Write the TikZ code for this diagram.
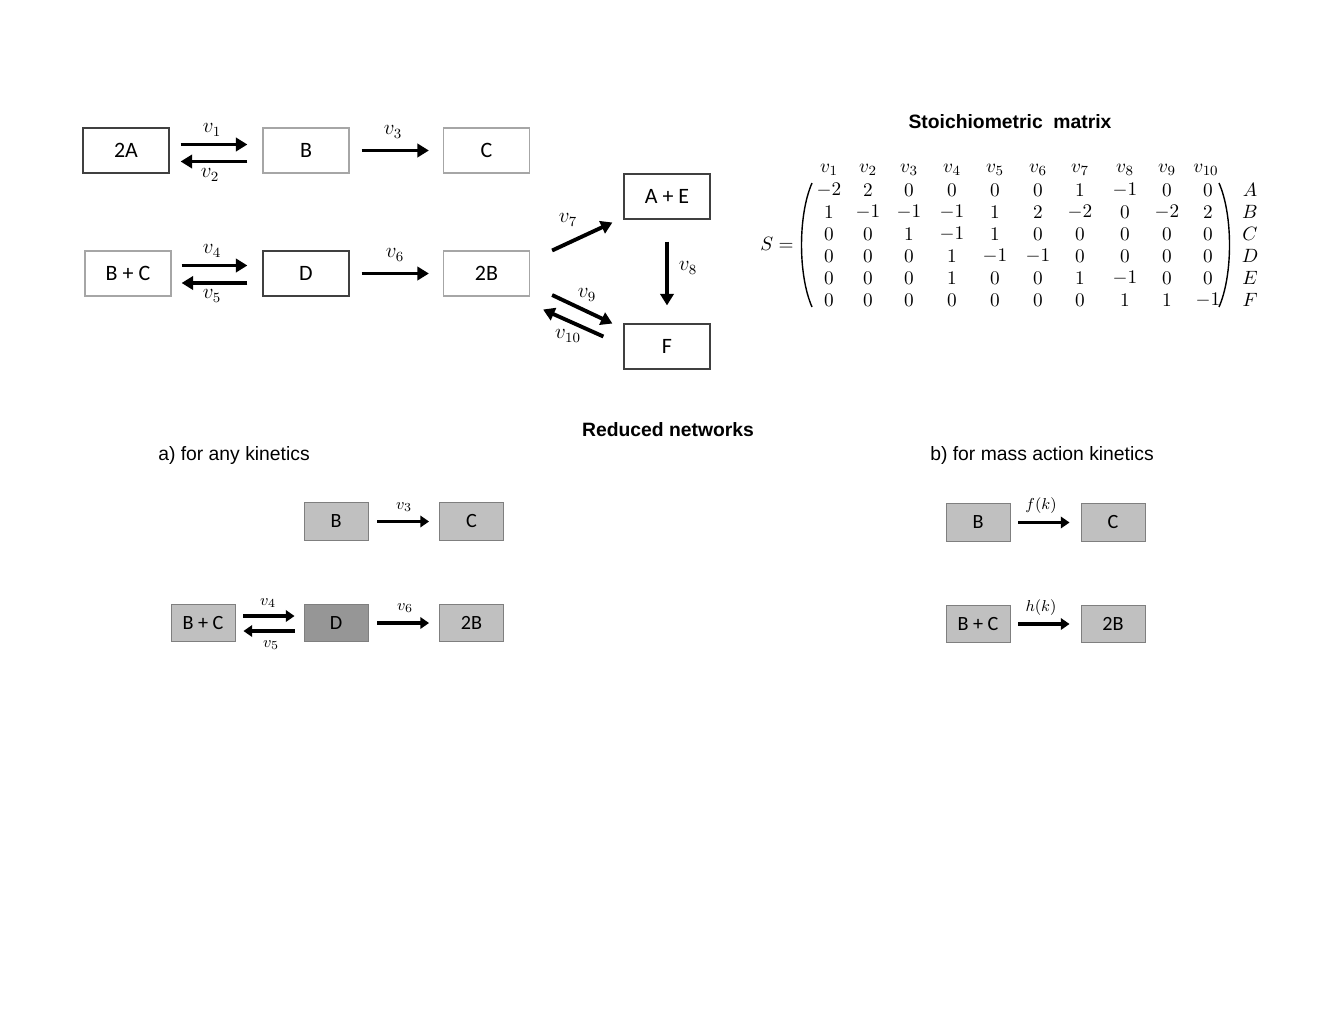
\documentclass[tikz,border=0pt]{standalone}
\usepackage{fontspec}
\setmainfont{Carlito}
\newfontfamily\arialfont{Liberation Sans}
\usetikzlibrary{arrows.meta,calc}

\definecolor{lineg}{RGB}{166,166,166}
\definecolor{lined}{RGB}{64,64,64}
\definecolor{redg}{RGB}{192,192,192}
\definecolor{redd}{RGB}{150,150,150}
\definecolor{redline}{RGB}{127,127,127}

\tikzset{
  species/.style={draw=lineg, line width=0.7pt, minimum width=1.72cm, minimum height=0.9cm,
    inner sep=0pt, font=\fontsize{12.5}{15}\selectfont},
  keyspecies/.style={species, draw=lined},
  reduced/.style={draw=redline, fill=redg, line width=0.5pt, minimum width=1.28cm,
    minimum height=0.75cm, inner sep=0pt, font=\fontsize{11.5}{14}\selectfont},
  rxn/.style={line width=2.2pt, -{Triangle[length=6.5pt,width=7.5pt]}},
  rxnsmall/.style={line width=1.8pt, -{Triangle[length=5pt,width=6.5pt]}},
  rate/.style={font=\fontsize{12}{14}\selectfont},
  ratesmall/.style={font=\fontsize{9.5}{11}\selectfont},
  heading/.style={font=\arialfont\bfseries\fontsize{11}{13}\selectfont},
  subheading/.style={font=\arialfont\fontsize{11}{13}\selectfont},
  entry/.style={font=\fontsize{11}{13}\selectfont, inner sep=0pt},
}

\begin{document}
\begin{tikzpicture}[x=0.02cm, y=-0.02cm]
  \useasboundingbox (0,0) rectangle (1344,1008);

  % full network
  \node[keyspecies] (A2) at (126,150.5) {2A};
  \node[species]    (B)  at (306,150.5) {B};
  \node[species]    (C)  at (486.5,150.5) {C};
  \node[species]    (BC) at (128,273.5) {B + C};
  \node[keyspecies] (D)  at (306,273.5) {D};
  \node[species]    (B2) at (486.5,273.5) {2B};
  \node[keyspecies] (AE) at (667,196.5) {A + E};
  \node[keyspecies] (F)  at (667,346.5) {F};

  \draw[rxn] ($(A2.east)+(11,-6)$) -- ($(B.west)+(-15,-6)$);
  \draw[rxn] ($(B.west)+(-15,11)$) -- ($(A2.east)+(11,11)$);
  \draw[rxn] ($(B.east)+(12,0)$) -- ($(C.west)+(-14,0)$);
  \draw[rxn] ($(BC.east)+(10,-8)$) -- ($(D.west)+(-15,-8)$);
  \draw[rxn] ($(D.west)+(-15,9.5)$) -- ($(BC.east)+(10,9.5)$);
  \draw[rxn] ($(D.east)+(12,0)$) -- ($(B2.west)+(-14,0)$);
  \draw[rxn] ($(B2.east)+(22,-23)$) -- ($(AE.west)+(-11,26)$);
  \draw[rxn] ($(AE.south)+(0,22)$) -- ($(F.north)+(0,-18)$);
  \draw[rxn] ($(B2.east)+(22,21.5)$) -- ($(F.west)+(-11,-23)$);
  \draw[rxn] ($(F.west)+(-20,-10)$) -- ($(B2.east)+(13,36)$);

  \node[rate] at (212,130) {$v_1$};
  \node[rate] at (210,175) {$v_2$};
  \node[rate] at (393,132) {$v_3$};
  \node[rate] at (212,251) {$v_4$};
  \node[rate] at (212,296) {$v_5$};
  \node[rate] at (395,255) {$v_6$};
  \node[rate] at (568,220) {$v_7$};
  \node[rate] at (688,268) {$v_8$};
  \node[rate] at (587,295) {$v_9$};
  \node[rate] at (568,336) {$v_{10}$};

  % stoichiometric matrix
  \node[heading] at (1010,122) {Stoichiometric\ \ matrix};
  \node[entry] at (777,244) {$S=$};
  \draw[line width=0.8pt] (812,183) .. controls (798,215) and (798,275) .. (812,307);
  \draw[line width=0.8pt] (1219,183) .. controls (1233,215) and (1233,275) .. (1219,307);
  \foreach \c in {1,...,10} {
    \pgfmathsetmacro{\cx}{{829,868,909,952,995,1038,1080,1125,1167,1206}[\c-1]}
    \node[entry] at (\cx,170) {$v_{\c}$};
  }
  \foreach \row [count=\r] in {{-2,2,0,0,0,0,1,-1,0,0},{1,-1,-1,-1,1,2,-2,0,-2,2},
      {0,0,1,-1,1,0,0,0,0,0},{0,0,0,1,-1,-1,0,0,0,0},
      {0,0,0,1,0,0,1,-1,0,0},{0,0,0,0,0,0,0,1,1,-1}} {
    \foreach \e [count=\c] in \row {
      \pgfmathsetmacro{\cx}{{829,868,909,952,995,1038,1080,1125,1167,1208}[\c-1]}
      \node[entry] at (\cx,{168+22*\r}) {$\e$};
    }
  }
  \foreach \s [count=\r] in {A,B,C,D,E,F}
    \node[entry] at (1250,{168+22*\r}) {$\s$};

  % reduced networks
  \node[heading] at (668,430) {Reduced networks};
  \node[subheading] at (234,455) {a) for any kinetics};
  \node[subheading] at (1042,455) {b) for mass action kinetics};

  \node[reduced] (rB)  at (336,521.5) {B};
  \node[reduced] (rC)  at (471.5,521.5) {C};
  \node[reduced] (rBC) at (203,623) {B + C};
  \node[reduced, fill=redd] (rD) at (336,623) {D};
  \node[reduced] (rB2) at (471.5,623) {2B};

  \draw[rxnsmall] ($(rB.east)+(9,0)$) -- ($(rC.west)+(-10,0)$);
  \draw[rxnsmall] ($(rBC.east)+(8,-7)$) -- ($(rD.west)+(-9,-7)$);
  \draw[rxnsmall] ($(rD.west)+(-9,8)$) -- ($(rBC.east)+(8,8)$);
  \draw[rxnsmall] ($(rD.east)+(9,0)$) -- ($(rB2.west)+(-10,0)$);

  \node[ratesmall] at (404,507) {$v_3$};
  \node[ratesmall] at (268,603) {$v_4$};
  \node[ratesmall] at (271,645) {$v_5$};
  \node[ratesmall] at (405,608) {$v_6$};

  \node[reduced] (mB)  at (978,522.5) {B};
  \node[reduced] (mC)  at (1113,522.5) {C};
  \node[reduced] (mBC) at (978,624) {B + C};
  \node[reduced] (mB2) at (1113,624) {2B};

  \draw[rxnsmall] ($(mB.east)+(8,0)$) -- ($(mC.west)+(-11,0)$);
  \draw[rxnsmall] ($(mBC.east)+(8,0)$) -- ($(mB2.west)+(-11,0)$);

  \node[ratesmall] at (1041,506) {$f(k)$};
  \node[ratesmall] at (1041,608) {$h(k)$};
\end{tikzpicture}
\end{document}
